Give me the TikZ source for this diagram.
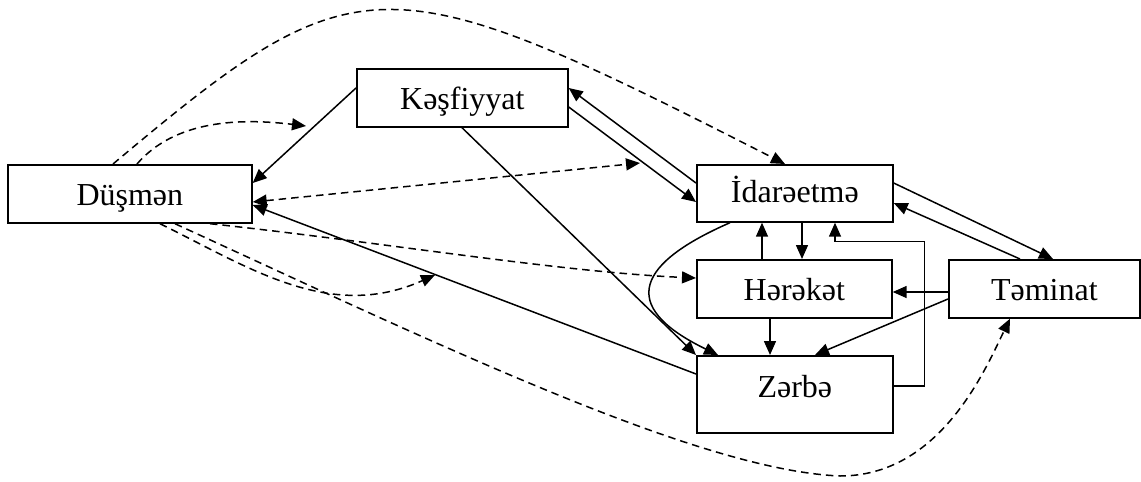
\documentclass[tikz,border=0pt]{standalone}
\usepackage{fontspec}
\setmainfont{Liberation Serif}
\usetikzlibrary{arrows.meta,calc}
\begin{document}
\begin{tikzpicture}[x=1pt,y=-1pt,
  >={Triangle[length=14pt,width=12pt]},
  box/.style={draw,line width=1.7pt,inner sep=0pt,text height=41pt,text depth=17pt,
    font=\fontsize{32}{36}\selectfont,anchor=north west},
  conn/.style={line width=1.5pt,->},
  dconn/.style={line width=1.5pt,->,dash pattern=on 7.5pt off 5pt}]
\useasboundingbox (0,0) rectangle (1141,482);
% boxes
\node[box,minimum width=244pt] (dus) at (7,164) {Düşmən};
\node[box,minimum width=211pt] (kes) at (356,68) {Kəşfiyyat};
\node[box,minimum width=196pt,text height=38pt,text depth=19pt] (ida) at (696,164) {İdarəetmə};
\node[box,minimum width=195pt] (her) at (696,259) {Hərəkət};
\node[box,minimum width=196pt,text height=42pt,text depth=35pt] (zer) at (696,355) {Zərbə};
\node[box,minimum width=191pt] (tem) at (948,259) {Təminat};
% free ends
\coordinate (c1) at (306,126);
\coordinate (c2) at (640,163);
\coordinate (c3) at (435,275);
% solid connectors
\draw[conn] ($(kes.north west)+(0,20)$) -- ($(dus.north east)+(0,19)$);
\draw[conn] ($(kes.south west)+(106,0)$) -- (zer.north west);
\draw[conn] ($(ida.north west)+(0,19)$) -- ($(kes.north east)+(0,20)$);
\draw[conn] ($(kes.north east)+(0,39)$) -- ($(ida.north west)+(0,38)$);
\draw[conn] ($(ida.north east)+(0,19)$) -- ($(tem.north west)+(105,0)$);
\draw[conn] ($(tem.north west)+(72,0)$) -- ($(ida.north east)+(0,39)$);
\draw[conn] ($(her.north west)+(66,0)$) -- ($(ida.south west)+(66,0)$);
\draw[conn] ($(ida.south west)+(106,0)$) -- ($(her.north west)+(106,0)$);
\draw[conn] ($(her.south west)+(74,0)$) -- ($(zer.north west)+(74,0)$);
\draw[conn] ($(zer.north east)+(0,31)$) -- ++(31,0) |- ($(ida.south west)+(139,19)$) -- ($(ida.south west)+(139,0)$);
\draw[conn] ($(tem.north west)+(0,33)$) -- ($(her.north east)+(0,33)$);
\draw[conn] ($(tem.north west)+(0,40)$) -- ($(zer.north west)+(119,0)$);
\draw[conn] ($(zer.north west)+(0,19)$) -- ($(dus.north east)+(0,41)$);
\draw[conn] ($(ida.south west)+(34,0)$) .. controls (640,262) and (615,305) .. ($(zer.north west)+(22,0)$);
% dashed connectors
\draw[dconn] ($(dus.north west)+(106,0)$) .. controls (357,-41) and (383,-41) .. ($(ida.north west)+(89,0)$);
\draw[dconn] ($(dus.north west)+(130,0)$) .. controls (175,120) and (240,118) .. (c1);
\draw[dconn,<->] ($(dus.north east)+(0,38)$) -- (c2);
\draw[dconn] ($(dus.south west)+(203,0)$) .. controls (380,242) and (560,272) .. ($(her.north west)+(0,19)$);
\draw[dconn] ($(dus.south west)+(153,0)$) .. controls (250,268) and (330,322) .. (c3);
\draw[dconn] ($(dus.south west)+(168,0)$) .. controls (450,350) and (700,470) .. (840,476)
  .. controls (940,476) and (985,370) .. ($(tem.south west)+(62,0)$);
\end{tikzpicture}
\end{document}
